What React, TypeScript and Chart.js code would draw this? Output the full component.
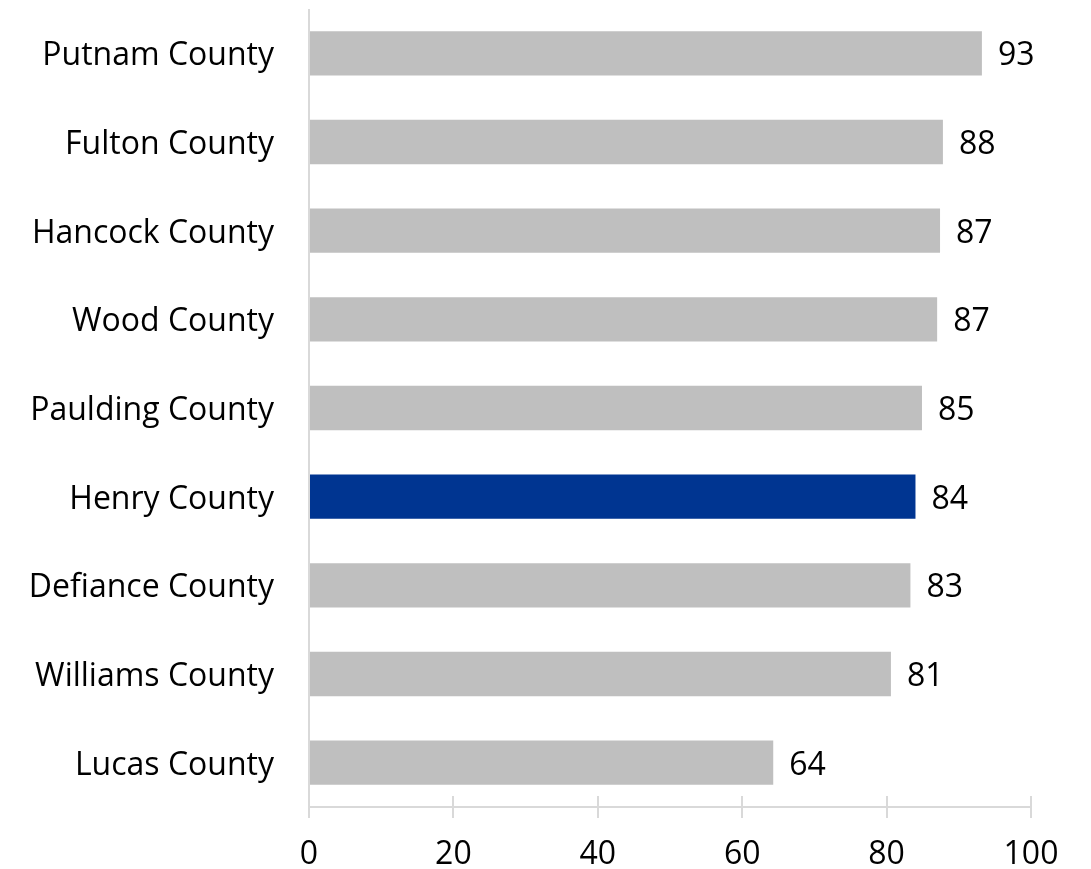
import React, { useEffect, useRef } from "react";
import { Chart, registerables } from "chart.js";

Chart.register(...registerables);

const categories = [
  "Putnam County",
  "Fulton County",
  "Hancock County",
  "Wood County",
  "Paulding County",
  "Henry County",
  "Defiance County",
  "Williams County",
  "Lucas County",
];
const values = [93.2, 87.8, 87.4, 87.0, 84.9, 84.0, 83.3, 80.6, 64.3];
const highlight = "Henry County";
const xTicks = [0, 20, 40, 60, 80, 100];

const FONT = "'Open Sans', 'Liberation Sans', sans-serif";
const AXIS_COLOR = "#d9d9d9";

const axisPlugin = {
  id: "axisPlugin",
  afterDraw(chart: any) {
    const ctx = chart.ctx;
    const x = chart.scales.x;
    const area = chart.chartArea;
    ctx.save();
    ctx.strokeStyle = AXIS_COLOR;
    ctx.lineWidth = 2;
    const x0 = Math.round(x.getPixelForValue(0));
    ctx.beginPath();
    ctx.moveTo(x0, area.top);
    ctx.lineTo(x0, area.bottom + 11);
    ctx.stroke();
    ctx.beginPath();
    ctx.moveTo(x0, area.bottom);
    ctx.lineTo(x.getPixelForValue(100), area.bottom);
    ctx.stroke();
    xTicks.forEach((t) => {
      const px = Math.round(x.getPixelForValue(t));
      ctx.beginPath();
      ctx.moveTo(px, area.bottom - 11);
      ctx.lineTo(px, area.bottom + 11);
      ctx.stroke();
    });
    ctx.fillStyle = "#000";
    ctx.font = `32px ${FONT}`;
    ctx.textAlign = "left";
    ctx.textBaseline = "middle";
    const meta = chart.getDatasetMeta(0);
    meta.data.forEach((bar: any, i: number) => {
      ctx.fillText(String(Math.round(values[i])), bar.x + 16, bar.y + 3);
    });
    ctx.restore();
  },
};

export default function App() {
  const ref = useRef<HTMLCanvasElement | null>(null);
  useEffect(() => {
    if (!ref.current) return;
    const chart = new Chart(ref.current, {
      type: "bar",
      data: {
        labels: categories,
        datasets: [
          {
            data: values,
            backgroundColor: categories.map((c) => (c === highlight ? "#003591" : "#bfbfbf")),
            barPercentage: 0.5,
            categoryPercentage: 1,
          },
        ],
      },
      options: {
        indexAxis: "y",
        animation: false,
        responsive: false,
        maintainAspectRatio: false,
        layout: { padding: { top: 9, right: 60, left: 0, bottom: 0 } },
        plugins: { legend: { display: false }, tooltip: { enabled: false } },
        scales: {
          x: {
            min: 0,
            max: 100,
            afterBuildTicks: (s: any) => {
              s.ticks = xTicks.map((v) => ({ value: v }));
            },
            grid: { display: false, drawTicks: false },
            border: { display: false },
            ticks: { color: "#000", font: { family: FONT, size: 32 }, padding: 29, maxRotation: 0 },
            afterFit: (s: any) => {
              s.height = 62;
              s.paddingLeft = 0;
              s.paddingRight = 0;
            },
          },
          y: {
            grid: { display: false, drawTicks: false },
            border: { display: false },
            ticks: { color: "#000", font: { family: FONT, size: 32 }, padding: 35, labelOffset: 3 },
            afterFit: (s: any) => {
              s.width = 309;
              s.paddingTop = 0;
              s.paddingBottom = 0;
            },
          },
        },
      },
      plugins: [axisPlugin],
    });
    return () => chart.destroy();
  }, []);
  return (
    <div style={{ position: "fixed", left: 0, top: 0, width: 1091, height: 869, background: "#fff" }}>
      <canvas ref={ref} width={1091} height={869} style={{ display: "block" }} />
    </div>
  );
}
